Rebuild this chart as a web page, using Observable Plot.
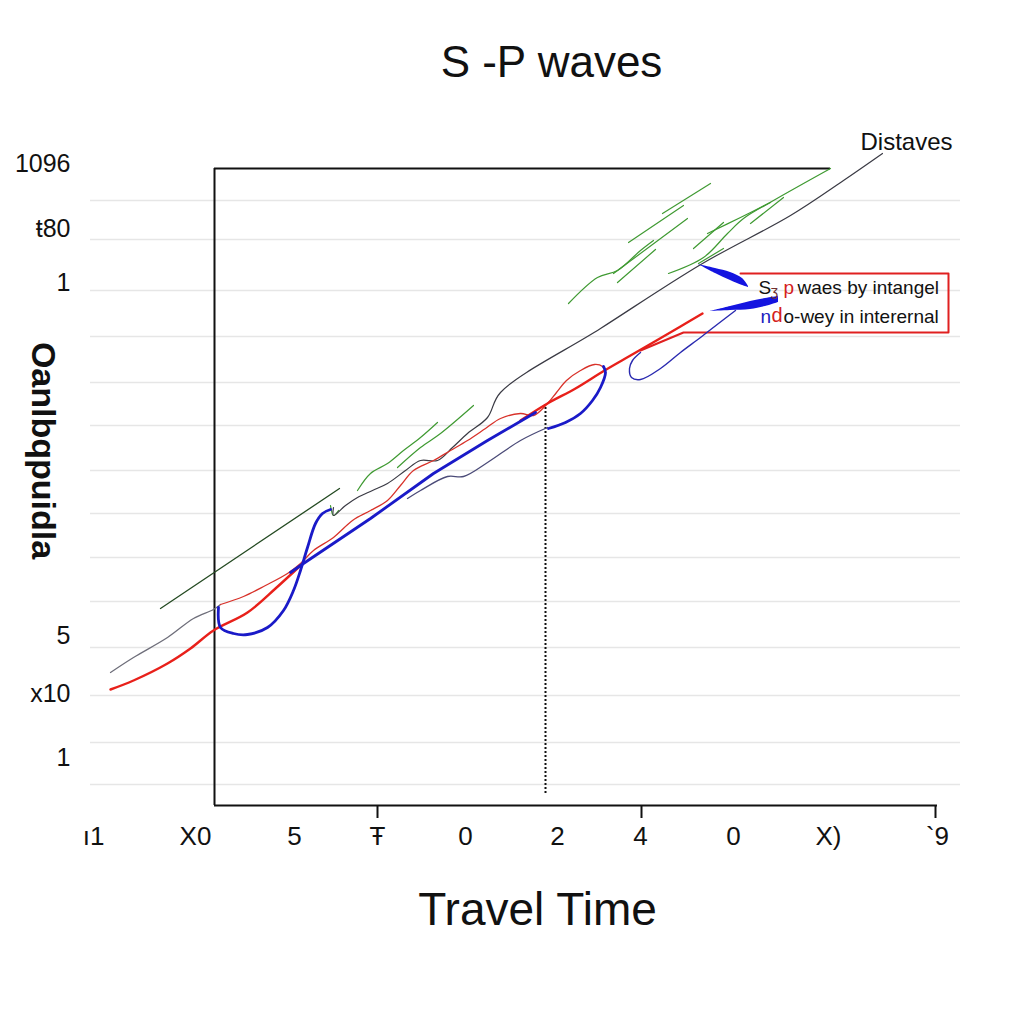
<!DOCTYPE html>
<html>
<head>
<meta charset="utf-8">
<script src="https://cdn.jsdelivr.net/npm/d3@7"></script>
<script src="https://cdn.jsdelivr.net/npm/@observablehq/plot@0.6"></script>
<style>
  html, body { margin: 0; padding: 0; background: #ffffff; }
  #chart { width: 1024px; height: 1024px; }
</style>
</head>
<body>
<div id="chart"></div>
<script>
// ---------- data (arbitrary chart units) ----------
const titleText = "S -P waves";
const xTitle = "Travel Time";
const yTitle = "Oanlbqpuidla";
const topLabel = "Distaves";

const xTickValues = [0.3, 10.5, 20.4, 28.7, 37.5, 46.7, 55.0, 64.3, 73.8, 84.7];
const xTickLabels = ["ı1", "X0", "5", "Ŧ", "0", "2", "4", "0", "X)", "`9"];
const yTickValues = [64.2, 57.7, 52.3, 17.0, 11.2, 4.8];
const yTickLabels = ["1096", "ŧ80", "1", "5", "x10", "1"];
const gridValues = [60.5, 56.6, 51.5, 46.9, 42.3, 38.0, 33.5, 29.2, 24.8, 20.4, 15.8, 11.0, 6.3, 2.1];

const axisTicks = [28.7, 55.1, 84.5];
const frameLeft = 12.4, frameTop = 63.7, frameTopEnd = 74.0, axisEnd = 84.7;
const markerTime = 45.5, markerTop = 39.8, markerBottom = 1.2;

// P wave (red)
const redThickA = [[2.0,11.6],[4.3,12.5],[7.7,14.2],[10.0,15.7],[12.3,17.5],[15.7,19.3],[18.5,21.7],[21.0,24.0]];
const redThin = [[13.0,20.1],[15.3,20.9],[17.5,22.0],[19.7,23.2],[21.0,24.2],[22.3,25.5],[24.3,26.8],[26.2,28.5],[28.0,29.5],[29.7,30.5],[31.0,32.0],[32.3,33.5],[34.3,34.5],[36.0,35.5],[37.7,36.5],[39.5,37.7],[41.0,38.7],[43.0,39.2],[44.3,39.0],[45.7,40.2],[46.6,41.3],[47.6,42.5],[49.0,43.5],[50.4,44.1],[51.2,43.9],[51.5,43.3]];
const redThickB = [[43.0,38.5],[45.7,40.2],[48.5,41.7],[51.4,43.5],[54.0,45.0],[56.6,46.5],[59.0,47.9],[61.2,49.2]];
const legendBox = [[65.0,53.2],[85.8,53.2],[85.8,47.3],[59.3,47.3],[55.0,45.5]];

// S wave (blue)
const blueS = [[12.8,19.8],[13.0,17.8],[14.3,17.2],[15.7,17.1],[17.7,17.8],[19.3,19.5],[20.3,21.5],[21.0,23.5],[21.7,25.8],[22.5,28.2],[23.2,29.2],[24.0,29.6]];
const blueStraight = [[20.0,23.3],[21.0,24.0],[28.0,28.7],[34.3,33.2],[39.7,36.5],[44.5,39.3]];
const blueLoop = [[45.8,37.7],[47.5,38.3],[49.0,39.2],[50.2,40.5],[51.0,41.8],[51.5,43.3],[51.3,43.9]];
const blueThin = [[55.0,45.3],[54.2,44.5],[53.9,43.7],[54.1,42.8],[55.0,42.6],[57.0,43.7],[59.0,45.3],[61.0,46.8],[62.8,48.2],[64.5,49.5]];
const slateThin = [[31.7,30.7],[33.0,31.5],[35.7,32.9],[37.3,32.9],[39.7,34.3],[43.0,36.5],[45.7,37.8]];
const wedgeA = [[60.8,54.1,54.1],[62.5,53.7,53.2],[64.0,53.3,52.5],[65.2,52.7,52.0],[65.8,51.9,51.8]];
const wedgeB = [[62.0,49.4,49.4],[64.0,49.9,49.5],[66.0,50.4,49.6],[67.5,50.7,49.9],[68.8,50.9,50.3]];

// distance curves (grey / dark)
const greyLow = [[2.0,13.3],[4.3,14.8],[7.7,16.8],[10.3,18.7],[12.3,19.6],[13.0,20.1]];
const darkLine = [[24.3,29.8],[24.3,29.0],[25.5,30.0],[26.7,30.8],[28.2,31.5],[29.7,32.2],[31.5,33.5],[33.0,34.5],[34.7,34.5],[36.2,35.8],[37.7,37.2],[39.7,38.8],[41.0,41.3],[51.0,47.7],[61.2,54.2],[70.0,59.0],[75.3,62.5],[79.2,65.2]];
const darkGreen = [[7.0,19.7],[24.9,31.7]];

// green scribbles
const greens = [
  [[47.8,50.2],[50.7,52.8],[52.7,53.5],[55.0,55.5],[56.3,56.5]],
  [[53.8,56.3],[59.3,60.0]],
  [[57.2,59.2],[62.0,62.2]],
  [[52.3,53.2],[59.7,58.7]],
  [[52.7,52.3],[56.5,55.6]],
  [[57.8,53.2],[61.3,54.8],[63.7,57.2],[65.3,58.7],[68.3,60.5],[74.0,63.7]],
  [[60.3,55.7],[63.3,58.3]],
  [[60.8,54.2],[63.3,55.7]],
  [[66.0,58.2],[69.3,60.8]],
  [[61.7,57.2],[65.0,58.8],[68.0,60.3]],
  [[26.7,31.5],[28.0,33.2],[29.7,34.2],[31.3,35.5],[33.0,36.8],[34.7,38.3]],
  [[30.7,33.8],[33.0,35.8],[35.0,37.2],[38.3,40.0]],
  [[24.0,30.0],[24.3,29.0],[24.8,29.5]]
];

// legend text pieces: [x, y, text, colour, size]
const legendParts = [
  [66.8, 51.8, "S", "#111", 19],
  [68.0, 51.4, "ʒ", "#703030", 14],
  [69.3, 51.8, "p", "#d42020", 19],
  [70.7, 51.8, "waes by intangel", "#111", 19],
  [67.0, 48.9, "n", "#2020c0", 19],
  [68.1, 49.0, "d", "#d42020", 20],
  [69.3, 48.9, "o-wey in interernal", "#111", 19]
];

// ---------- chart ----------
const xy = {x: d => d[0], y: d => d[1]};
const xMap = new Map(xTickValues.map((v, i) => [v, xTickLabels[i]]));
const yMap = new Map(yTickValues.map((v, i) => [v, yTickLabels[i]]));
const greenData = greens.flatMap((s, k) => s.map(p => ({x: p[0], y: p[1], k})));

const chart = Plot.plot({
  width: 1024,
  height: 1024,
  marginLeft: 90,
  marginRight: 64,
  marginTop: 168,
  marginBottom: 219,
  x: {domain: [0, 87]},
  y: {domain: [0, 63.7]},
  style: {fontFamily: "'Liberation Sans', Arial, sans-serif", background: "#ffffff", color: "#111"},
  marks: [
    Plot.ruleY(gridValues, {stroke: "#e6e6e6", strokeWidth: 1.5}),
    Plot.axisX({ticks: xTickValues, tickFormat: d => xMap.get(d), tickSize: 0, tickPadding: 21, fontSize: 26, label: null}),
    Plot.axisY({ticks: yTickValues, tickFormat: d => yMap.get(d), tickSize: 0, tickPadding: 20, fontSize: 25, label: null, anchor: "left"}),
    // frame
    Plot.ruleX([frameLeft], {y1: 0, y2: frameTop, stroke: "#111", strokeWidth: 2}),
    Plot.ruleY([frameTop], {x1: frameLeft, x2: frameTopEnd, stroke: "#111", strokeWidth: 2}),
    Plot.ruleY([0], {x1: frameLeft, x2: axisEnd, stroke: "#111", strokeWidth: 2}),
    Plot.ruleX(axisTicks, {y1: 0, y2: -1.3, stroke: "#111", strokeWidth: 2}),
    Plot.ruleX([markerTime], {y1: markerBottom, y2: markerTop, stroke: "#111", strokeWidth: 2, strokeDasharray: "2,2"}),
    // green scribbles
    Plot.line(greenData, {x: "x", y: "y", z: "k", stroke: "#3f9a32", strokeWidth: 1.2, curve: "catmull-rom"}),
    Plot.line(darkGreen, {...xy, stroke: "#244a22", strokeWidth: 1.3}),
    // grey/dark lines
    Plot.line(greyLow, {...xy, stroke: "#6e6e7a", strokeWidth: 1.3, curve: "catmull-rom"}),
    Plot.line(darkLine, {...xy, stroke: "#3a3a44", strokeWidth: 1.2, curve: "catmull-rom"}),
    Plot.line(slateThin, {...xy, stroke: "#4b4b78", strokeWidth: 1.3, curve: "catmull-rom"}),
    // red
    Plot.line(redThin, {...xy, stroke: "#d8322a", strokeWidth: 1.3, curve: "catmull-rom"}),
    Plot.line(redThickA, {...xy, stroke: "#e8201a", strokeWidth: 2.4, curve: "catmull-rom"}),
    Plot.line(redThickB, {...xy, stroke: "#e8201a", strokeWidth: 2.4, curve: "catmull-rom"}),
    Plot.line(legendBox, {...xy, stroke: "#e02020", strokeWidth: 2}),
    // blue
    Plot.line(blueS, {...xy, stroke: "#1a1ac8", strokeWidth: 2.8, curve: "catmull-rom"}),
    Plot.line(blueStraight, {...xy, stroke: "#1a1ac8", strokeWidth: 2.8}),
    Plot.line(blueLoop, {...xy, stroke: "#1a1ac8", strokeWidth: 2.8, curve: "catmull-rom"}),
    Plot.line(blueThin, {...xy, stroke: "#2a2ab0", strokeWidth: 1.4, curve: "catmull-rom"}),
    Plot.areaY(wedgeA, {x: d => d[0], y1: d => d[1], y2: d => d[2], fill: "#1414e0", curve: "catmull-rom"}),
    Plot.areaY(wedgeB, {x: d => d[0], y1: d => d[1], y2: d => d[2], fill: "#1414e0", curve: "catmull-rom"}),
    // legend texts
    Plot.text(legendParts, {x: d => d[0], y: d => d[1], text: d => d[2], fill: d => d[3], fontSize: d => d[4], textAnchor: "start"}),
    // labels
    Plot.text([titleText], {x: 46.1, y: 74.3, text: d => d, fontSize: 44, fill: "#111"}),
    Plot.text([xTitle], {x: 44.7, y: -10.5, text: d => d, fontSize: 46, fill: "#111"}),
    Plot.text([topLabel], {x: 81.6, y: 66.3, text: d => d, fontSize: 24, fill: "#111"}),
    Plot.text([yTitle], {x: -4.8, y: 35.5, text: d => d, fontSize: 34, fontWeight: "bold", rotate: 90, fill: "#111"})
  ]
});
document.getElementById("chart").appendChild(chart);
</script>
</body>
</html>
